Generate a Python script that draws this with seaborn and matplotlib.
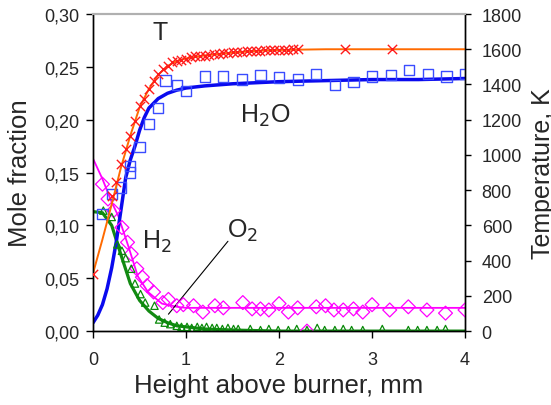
import numpy as np
import pandas as pd
import matplotlib
matplotlib.use('Agg')
import matplotlib.pyplot as plt
from matplotlib.ticker import FuncFormatter
import seaborn as sns

# Data
# Temperature (right axis, K)
T_line_x = [0.0, 0.1, 0.2, 0.3, 0.4, 0.5, 0.6, 0.7, 0.8, 0.9, 1.0, 1.2, 1.4, 1.6, 1.8, 2.0, 2.5, 3.0, 3.5, 4.0]
T_line_y = [330, 520, 720, 930, 1110, 1270, 1375, 1455, 1505, 1533, 1548, 1565, 1576, 1585, 1592, 1596, 1600, 1600, 1600, 1600]
T_pts_x = [0.0, 0.20, 0.25, 0.30, 0.35, 0.40, 0.45, 0.50, 0.55, 0.60, 0.65, 0.70, 0.75, 0.80, 0.85,
           0.90, 0.95, 1.00, 1.05, 1.10, 1.15, 1.20, 1.25, 1.30, 1.35, 1.40, 1.45, 1.50, 1.55, 1.60,
           1.65, 1.70, 1.75, 1.80, 1.85, 1.90, 1.95, 2.00, 2.05, 2.10, 2.15, 2.20, 2.71, 3.21]
T_pts_y = [325, 766, 846, 950, 1034, 1108, 1195, 1278, 1318, 1375, 1420, 1460, 1488, 1506, 1528,
           1534, 1540, 1545, 1557, 1560, 1562, 1564, 1570, 1572, 1575, 1578, 1580, 1582, 1584, 1586,
           1588, 1589, 1590, 1592, 1593, 1594, 1595, 1596, 1598, 1598, 1599, 1600, 1600, 1600]

# H2O mole fraction
H2O_line_x = [0.0, 0.05, 0.1, 0.15, 0.2, 0.25, 0.3, 0.35, 0.4, 0.45, 0.5, 0.55, 0.6, 0.7, 0.8, 0.9,
              1.0, 1.2, 1.5, 2.0, 2.5, 3.0, 3.5, 4.0]
H2O_line_y = [0.008, 0.015, 0.025, 0.040, 0.060, 0.085, 0.115, 0.145, 0.162, 0.175, 0.190, 0.202,
              0.211, 0.220, 0.225, 0.228, 0.230, 0.232, 0.234, 0.236, 0.237, 0.238, 0.238, 0.239]
H2O_pts_x = [0.1, 0.2, 0.3, 0.4, 0.4, 0.5, 0.6, 0.7, 0.78, 0.9, 1.0, 1.2, 1.4, 1.6, 1.8, 2.0, 2.2,
             2.4, 2.6, 2.8, 3.0, 3.2, 3.4, 3.6, 3.8, 4.0]
H2O_pts_y = [0.111, 0.130, 0.136, 0.150, 0.156, 0.174, 0.196, 0.211, 0.237, 0.233, 0.227, 0.241, 0.241,
             0.238, 0.242, 0.240, 0.238, 0.243, 0.233, 0.236, 0.241, 0.242, 0.247, 0.243, 0.241, 0.243]

# H2 mole fraction
H2_line_x = [0.0, 0.1, 0.2, 0.27, 0.38, 0.48, 0.59, 0.74, 0.9, 1.0, 1.5, 2.0, 3.0, 4.0]
H2_line_y = [0.163, 0.144, 0.122, 0.109, 0.080, 0.052, 0.037, 0.026, 0.023, 0.022, 0.022, 0.022, 0.022, 0.022]
H2_pts_x = [0.10, 0.16, 0.22, 0.31, 0.37, 0.41, 0.47, 0.53, 0.58, 0.65, 0.75, 0.81, 0.90, 0.97, 1.08,
            1.18, 1.31, 1.40, 1.61, 1.71, 1.80, 1.89, 2.00, 2.10, 2.20, 2.30, 2.40, 2.50, 2.59, 2.69,
            2.80, 2.90, 3.00, 3.19, 3.39, 3.59, 3.79, 4.00]
H2_pts_y = [0.139, 0.125, 0.114, 0.098, 0.084, 0.073, 0.059, 0.051, 0.043, 0.037, 0.027, 0.030, 0.024,
            0.025, 0.024, 0.018, 0.024, 0.022, 0.027, 0.021, 0.021, 0.020, 0.026, 0.018, 0.022, 0.000,
            0.023, 0.024, 0.020, 0.020, 0.021, 0.018, 0.025, 0.020, 0.023, 0.020, 0.017, 0.020]

# O2 mole fraction
O2_line_x = [0.0, 0.1, 0.2, 0.3, 0.4, 0.5, 0.6, 0.7, 0.8, 0.9, 1.0, 1.2, 1.5, 2.0, 3.0, 4.0]
O2_line_y = [0.113, 0.112, 0.100, 0.072, 0.045, 0.029, 0.019, 0.012, 0.008, 0.005, 0.004, 0.002, 0.001, 0.000, 0.000, 0.000]
O2_pts_x = [0.11, 0.20, 0.26, 0.31, 0.35, 0.41, 0.45, 0.51, 0.56, 0.66, 0.71, 0.77, 0.83, 0.90, 0.95,
            1.01, 1.06, 1.12, 1.17, 1.22, 1.28, 1.33, 1.39, 1.45, 1.51, 1.56, 1.69, 1.80, 1.89, 1.99,
            2.10, 2.19, 2.30, 2.41, 2.49, 2.60, 2.69, 2.78, 2.90, 3.11, 3.39, 3.49, 3.59, 3.70, 3.79]
O2_pts_y = [0.114, 0.108, 0.082, 0.076, 0.069, 0.059, 0.045, 0.035, 0.027, 0.024, 0.011, 0.008, 0.0066,
            0.005, 0.004, 0.004, 0.003, 0.004, 0.003, 0.004, 0.003, 0.003, 0.002, 0.003, 0.002, 0.002,
            0.002, 0.001, 0.002, 0.001, 0.001, 0.002, 0.001, 0.003, 0.001, 0.001, 0.002, 0.001, 0.001,
            0.002, 0.001, 0.001, 0.001, 0.001, 0.002]

sns.set_style('white')
plt.rcParams['font.family'] = ['Liberation Sans', 'DejaVu Sans']

fig = plt.figure(figsize=(5.51, 4.06), dpi=100)
ax = fig.add_axes([0.169, 0.182, 0.675, 0.781])
ax2 = ax.twinx()

# mole fractions on left axis
sns.lineplot(x=H2_line_x, y=H2_line_y, ax=ax, color='#ff00ff', linewidth=1.3, sort=False, estimator=None)
sns.scatterplot(x=H2_pts_x, y=H2_pts_y, ax=ax, marker='D', s=50, facecolor='none', edgecolor='#ff00ff', linewidth=0.9, zorder=3)
sns.lineplot(x=O2_line_x, y=O2_line_y, ax=ax, color='#138a13', linewidth=2.3, sort=False, estimator=None)
sns.scatterplot(x=O2_pts_x, y=O2_pts_y, ax=ax, marker='^', s=28, facecolor='none', edgecolor='#0a8a0a', linewidth=0.9, zorder=3)
sns.lineplot(x=H2O_line_x, y=H2O_line_y, ax=ax, color='#0a0aee', linewidth=2.5, sort=False, estimator=None)
sns.scatterplot(x=H2O_pts_x, y=H2O_pts_y, ax=ax, marker='s', s=55, facecolor='none', edgecolor='#3a4cff', linewidth=1.0, zorder=3)

# temperature on right axis
sns.lineplot(x=T_line_x, y=T_line_y, ax=ax2, color='#ff6a00', linewidth=1.4, sort=False, estimator=None)
sns.scatterplot(x=T_pts_x, y=T_pts_y, ax=ax2, marker='x', s=45, color='#ff1a1a', linewidth=1.0, zorder=3)

ax.set_xlim(0, 4)
ax.set_ylim(0, 0.30)
ax2.set_ylim(0, 1800)
ax.set_xticks([0, 1, 2, 3, 4])
ax.set_yticks(np.arange(0, 0.31, 0.05))
ax2.set_yticks(np.arange(0, 1801, 200))
ax.yaxis.set_major_formatter(FuncFormatter(lambda v, p: ('%.2f' % v).replace('.', ',')))

ax.tick_params(axis='both', direction='out', length=5, width=1, color='black', labelsize=13)
ax.tick_params(axis='y', left=True, pad=5)
ax.tick_params(axis='x', bottom=True, pad=9)
ax2.tick_params(axis='y', right=True, direction='out', length=4, width=1, color='black', labelsize=13, pad=8)

for a in (ax, ax2):
    for side in ('left', 'right', 'bottom'):
        a.spines[side].set_color('black')
        a.spines[side].set_linewidth(1.0)
    a.spines['top'].set_color('#b0b0b0')
    a.spines['top'].set_linewidth(1.5)

ax.set_xlabel('Height above burner, mm', fontsize=18.5)
ax.set_ylabel('Mole fraction', fontsize=18.5)
ax2.set_ylabel('Temperature, K', fontsize=18)
ax.yaxis.set_label_coords(-0.163, 0.5)
ax2.yaxis.set_label_coords(1.178, 0.5)

# curve labels
ax.text(0.72, 0.283, 'T', fontsize=18, ha='center', va='center')
ax.text(1.85, 0.205, 'H$_2$O', fontsize=18, ha='center', va='center')
ax.text(0.69, 0.085, 'H$_2$', fontsize=18, ha='center', va='center')
ax.text(1.61, 0.096, 'O$_2$', fontsize=18, ha='center', va='center')
ax.plot([1.45, 0.81], [0.085, 0.016], color='black', linewidth=0.8)

fig.savefig('out.png', dpi=100)
